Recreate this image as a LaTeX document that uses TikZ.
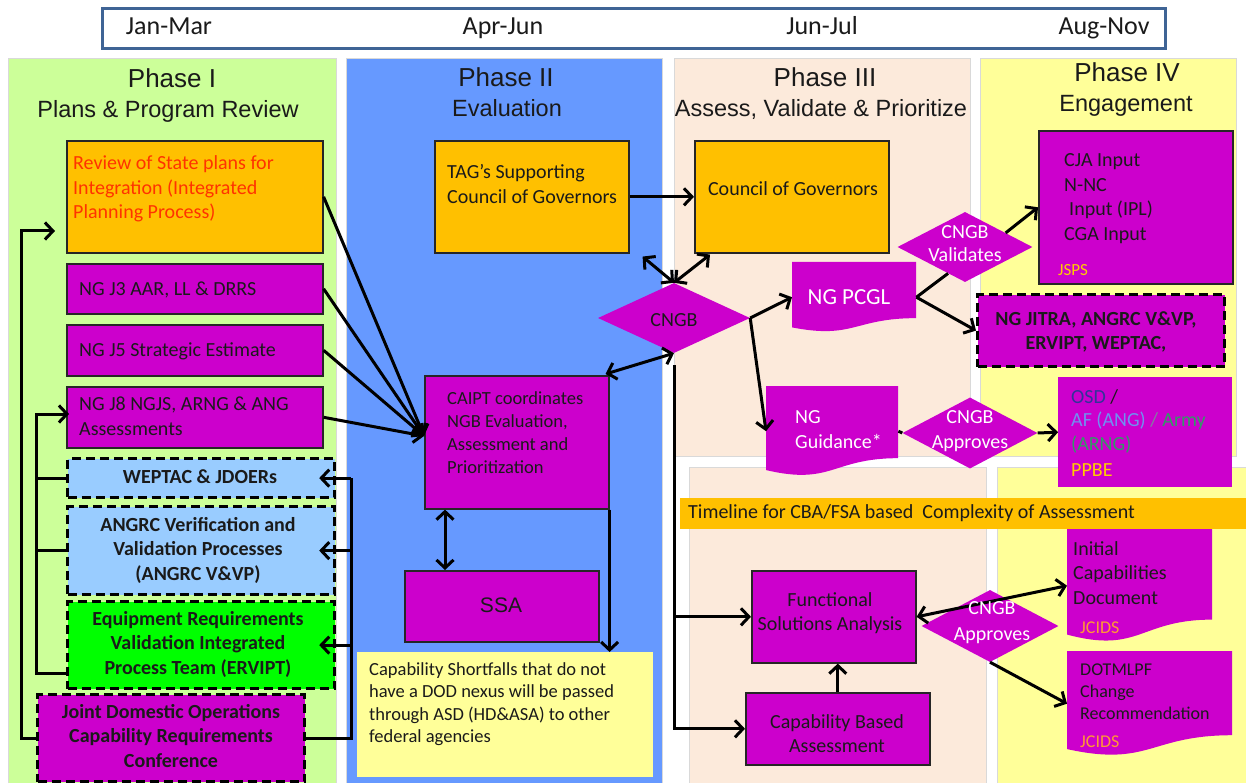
\documentclass[tikz,border=0pt]{standalone}
\usepackage{fontspec}
\setmainfont{Carlito}
\newfontfamily\arialf{Liberation Sans}
\usetikzlibrary{arrows.meta,shapes.geometric,calc}
\definecolor{p1}{HTML}{CCFF99}
\definecolor{p2}{HTML}{6699FF}
\definecolor{p3}{HTML}{FCEADB}
\definecolor{p4}{HTML}{FFFF99}
\definecolor{orng}{HTML}{FFC000}
\definecolor{mag}{HTML}{CC00CC}
\definecolor{lblue}{HTML}{99CCFF}
\definecolor{lgreen}{HTML}{00FF00}
\definecolor{redtxt}{HTML}{FF3300}
\definecolor{navy}{HTML}{333399}
\definecolor{afblue}{HTML}{7090F0}
\definecolor{armygreen}{HTML}{339966}
\definecolor{ppbe}{HTML}{FFCC00}
\definecolor{jcids}{HTML}{FF9933}
\definecolor{tlborder}{HTML}{3F6495}
\definecolor{boxline}{HTML}{262626}
\definecolor{pborder}{HTML}{D9D9D9}
\definecolor{txtdark}{HTML}{1A1A1A}
\definecolor{slashgray}{HTML}{8080A0}
\newcommand\mybox[6]{\node[#6,anchor=north west,minimum width={(#4-#2)*1pt},minimum height={(#5-#3)*1pt}] (#1) at (#2,#3) {};}
\newcommand\mydoc[6]{\fill[#6] (#2,#3) -- ({#2+#4},#3) -- ({#2+#4},{#3+0.802*#5}) .. controls ({#2+0.5*#4},{#3+0.802*#5}) and ({#2+0.5*#4},{#3+1.107*#5}) .. (#2,{#3+0.934*#5}) -- cycle;
\node[anchor=north west,minimum width={#4*1pt},minimum height={#5*1pt}] (#1) at (#2,#3) {};}
\newcommand\mydia[6]{\node[diamond,anchor=center,minimum width={#4*1pt},minimum height={#5*1pt},#6] (#1) at (#2,#3) {};}
\begin{document}
\begin{tikzpicture}[x=1pt,y=-1pt,
 every node/.style={inner sep=0pt},
 box/.style={draw=boxline,line width=1.6pt},
 dbox/.style={draw=black,line width=3.2pt,dash pattern=on 9pt off 5pt},
 panel/.style={draw=pborder,line width=1pt},
 tx/.style={anchor=base west,align=left,font=\fontsize{20}{24.5}\selectfont,text=txtdark},
 txc/.style={anchor=base,align=center,font=\fontsize{20}{24.5}\selectfont,text=txtdark},
 txb/.style={anchor=base,align=center,font=\fontsize{20}{24.5}\selectfont\bfseries,text=txtdark},
 ttl/.style={anchor=base,font=\arialf\fontsize{26}{30}\selectfont,text=txtdark},
 sttl/.style={anchor=base,font=\arialf\fontsize{23.5}{28}\selectfont,text=txtdark},
 ln/.style={line width=3pt},
 arr/.style={ln,-{Straight Barb[length=8pt,width=17pt]}},
 darr/.style={ln,{Straight Barb[length=8pt,width=17pt]}-{Straight Barb[length=8pt,width=17pt]}},
]
\useasboundingbox (0,0) rectangle (1246,783);
\fill[white] (0,0) rectangle (1246,783);
% panels
\mybox{P1}{8}{58}{336}{784}{panel,fill=p1}
\mybox{P2}{346}{58}{662}{784}{panel,fill=p2}
\mybox{P3}{674}{58}{970}{456}{panel,fill=p3}
\mybox{P4}{980}{58}{1236}{456}{panel,fill=p4}
\mybox{P3b}{689}{467}{986}{784}{panel,fill=p3}
\mybox{P4b}{997}{467}{1246}{784}{panel,fill=p4}
% timeline
\mybox{tl}{101}{7}{1164}{47}{draw=tlborder,line width=3pt,fill=white}
\node[txc,font=\fontsize{26}{30}\selectfont] (m1) at (169,35) {Jan-Mar};
\node[txc,font=\fontsize{26}{30}\selectfont] (m2) at (503,35) {Apr-Jun};
\node[txc,font=\fontsize{26}{30}\selectfont] (m3) at (822,35) {Jun-Jul};
\node[txc,font=\fontsize{26}{30}\selectfont] (m4) at (1104,35) {Aug-Nov};
% titles
\node[ttl] (ph1) at (172,88) {Phase I};
\node[sttl] (ph1s) at (168,118) {Plans \& Program Review};
\node[ttl] (ph2) at (506,87) {Phase II};
\node[sttl] (ph2s) at (507,117) {Evaluation};
\node[ttl] (ph3) at (825,87) {Phase III};
\node[sttl] (ph3s) at (821,117) {Assess, Validate \& Prioritize};
\node[ttl] (ph4) at (1127,82) {Phase IV};
\node[sttl] (ph4s) at (1126,112) {Engagement};
% phase I boxes
\mybox{rev}{66}{140}{322}{252}{box,fill=orng}
\mybox{j3}{66}{263}{322}{313}{box,fill=mag}
\mybox{j5}{66}{324}{322}{375}{box,fill=mag}
\mybox{j8}{66}{386}{322}{447}{box,fill=mag}
\mybox{wep}{66}{457}{333}{496}{dbox,fill=lblue}
\mybox{ang}{66}{505}{333}{593}{dbox,fill=lblue}
\mybox{erv}{66}{600}{333}{687}{dbox,fill=lgreen}
\mybox{jdo}{36}{693}{303}{780}{dbox,fill=mag}
% phase II boxes
\mybox{tag}{434}{140}{628}{252}{box,fill=orng}
\mydia{cngb}{674}{318}{152}{70}{fill=mag}
\mybox{caipt}{424}{375}{608}{508}{box,fill=mag}
\mybox{ssa}{404}{570}{598}{641}{box,fill=mag}
\mybox{sf}{357}{652}{653}{777}{fill=p4}
% phase III
\mybox{cog}{694}{140}{888}{252}{box,fill=orng}
\mydoc{pcgl}{792}{262}{124}{70}{mag}
\mydia{val}{965}{247}{135}{70}{fill=mag}
\mydoc{guid}{766}{386}{132}{90}{mag}
\mydia{app1}{970}{433}{135}{71}{fill=mag}
% phase IV
\mybox{cja}{1038}{130}{1232}{283}{box,fill=mag}
\mybox{jitra}{976}{293}{1223}{365}{dbox,fill=mag}
\mybox{osd}{1058}{377}{1232}{487}{fill=mag}
% lower
\mybox{bar}{680}{498}{1246}{529}{fill=orng}
\mybox{fsa}{751}{570}{915}{662}{box,fill=mag}
\mybox{cba}{745}{692}{929}{764}{box,fill=mag}
\mydia{app2}{990}{626}{137}{72}{fill=mag}
\mydoc{icd}{1067}{529}{145}{113}{mag}
\mydoc{dot}{1067}{651}{165}{105}{mag}
% connectors phase I
\coordinate (revin) at (55,231);
\draw[arr] (jdo.west) -- ++(-15,0) |- (revin);
\coordinate (j8in) at (69,414);
\draw[arr] ([yshift=-28pt]erv.west) -- ++(-30,0) |- (j8in);
\draw[ln] (wep.west) -- ++(-30,0);
\draw[ln] (ang.west) -- ++(-30,0);
\draw[ln] (jdo.east) -| ([xshift=15pt]wep.east);
\draw[arr] ([xshift=15pt]wep.east) -- ([xshift=-17pt]wep.east);
\draw[arr] ([xshift=15pt]ang.east) -- ([xshift=-17pt]ang.east);
\draw[arr] ([xshift=15pt]erv.east) -- ([xshift=-17pt]erv.east);
\coordinate (cin) at (424,436);
\draw[arr] (rev.east) -- (cin);
\draw[arr] (j3.east) -- (cin);
\draw[arr] (j5.east) -- (cin);
\draw[arr] (j8.east) -- (cin);
% connectors phase II/III
\draw[arr] (tag.east) -- (cog.west);
\draw[darr] ([xshift=13pt,yshift=-3pt]tag.south east) -- (cngb.north);
\draw[darr] ([xshift=16pt,yshift=-1pt]cog.south west) -- (cngb.north);
\draw[darr] ([xshift=-4pt,yshift=1pt]caipt.north east) -- (cngb.south);
\draw[darr] ([xshift=21pt]caipt.south west) -- ([xshift=41pt]ssa.north west);
\draw[arr] (caipt.south east) -- (caipt.south east |- sf.north);
\coordinate (vtop) at ([yshift=-12pt]cngb.south);
\draw[arr] (vtop) |- (cba.west);
\draw[arr] (vtop |- fsa.west) -- (fsa.west);
\draw[arr] (cngb.east) -- (pcgl.west);
\draw[arr] (cngb.east) -- (guid.west);
\draw[arr] (pcgl.east) -- (jitra.west);
\draw[ln] (pcgl.east) -- ($(val.west)!0.75!(val.south)$);
\draw[arr] ($(val.north)!0.6!(val.east)$) -- (cja.west);
\draw[ln] (guid.east) -- (app1.west);
\draw[arr] (app1.east) -- (osd.west);
\draw[arr] (cba.north) -- (cba.north |- fsa.south);
\draw[darr] (fsa.east) -- (icd.west);
\draw[arr] (app2.south) -- (dot.west);
% texts phase I (base = last line)
\node[tx,text=redtxt] (rev-t) at (73,219) {Review of State plans for\\Integration (Integrated\\Planning Process)};
\node[tx] (j3-t) at (79,295) {NG J3 AAR, LL \& DRRS};
\node[tx] (j5-t) at (79,356) {NG J5 Strategic Estimate};
\node[tx] (j8-t) at (79,435) {NG J8 NGJS, ARNG \& ANG\\Assessments};
\node[txb] (wep-t) at (200,483) {WEPTAC \& JDOERs};
\node[txb] (ang-t) at (198,580) {ANGRC Verification and\\Validation Processes\\(ANGRC V\&VP)};
\node[txb] (erv-t) at (198,674) {Equipment Requirements\\Validation Integrated\\Process Team (ERVIPT)};
\node[txb] (jdo-t) at (171,767) {Joint Domestic Operations\\Capability Requirements\\Conference};
% texts phase II
\node[tx] (tag-t) at (447,203.5) {TAG’s Supporting\\Council of Governors};
\node[txc] (cngb-t) at (674,326) {CNGB};
\node[tx,font=\fontsize{18.5}{22.7}\selectfont] (caipt-t) at (447,473) {CAIPT coordinates\\NGB Evaluation,\\Assessment and\\Prioritization};
\node[txc,font=\arialf\fontsize{21}{25}\selectfont] (ssa-t) at (501,612) {SSA};
\node[tx,font=\fontsize{18.5}{22.5}\selectfont] (sf-t) at (369,742.5) {Capability Shortfalls that do not\\have a DOD nexus will be passed\\through ASD (HD\&ASA) to other\\federal agencies};
% texts phase III
\node[txc] (cog-t) at (793,196) {Council of Governors};
\node[txc,text=white,font=\fontsize{23}{27}\selectfont] (pcgl-t) at (849,305) {NG PCGL};
\node[txc,text=white,font=\fontsize{20}{24}\selectfont] (val-t) at (965,262) {CNGB\\Validates};
\node[tx,text=white,font=\fontsize{20}{25}\selectfont] (guid-t) at (795,448) {NG\\Guidance*};
\node[txc,text=white,font=\fontsize{20}{25}\selectfont] (app1-t) at (970,448) {CNGB\\Approves};
% texts phase IV
\node[tx] (cja-t) at (1064,240.5) {CJA Input\\N-NC\\\hspace*{5pt}Input (IPL)\\CGA Input};
\node[tx,text=ppbe,font=\fontsize{17}{20}\selectfont] (jsps-t) at (1058,276) {JSPS};
\node[txb] (jitra-t) at (1096,349.5) {NG JITRA, ANGRC V\&VP,\\ERVIPT, WEPTAC,};
\node[tx,font=\fontsize{20}{23.5}\selectfont] (osd-t) at (1071,476.5) {{\color{navy}OSD} /\\{\color{afblue}AF (ANG)} {\color{slashgray}/} {\color{armygreen}Army}\\{\color{armygreen}(ARNG)}\\[3pt]{\color{ppbe}PPBE}};
% texts lower
\node[tx] (bar-t) at (688,518) {Timeline for CBA/FSA based \ Complexity of Assessment};
\node[txc] (fsa-t) at (830,630.5) {Functional\\Solutions Analysis};
\node[txc,font=\fontsize{20}{24}\selectfont] (cba-t) at (837,752) {Capability Based\\Assessment};
\node[txc,text=white,font=\fontsize{20}{26}\selectfont] (app2-t) at (992,640) {CNGB\\Approves};
\node[tx] (icd-t) at (1073,604) {Initial\\Capabilities\\Document};
\node[tx,text=jcids,font=\fontsize{18}{22}\selectfont] (icd-j) at (1080,633) {JCIDS};
\node[tx,font=\fontsize{18}{22}\selectfont] (dot-t) at (1080,719) {DOTMLPF\\Change\\Recommendation};
\node[tx,text=jcids,font=\fontsize{18}{22}\selectfont] (dot-j) at (1080,747) {JCIDS};
\end{tikzpicture}
\end{document}
